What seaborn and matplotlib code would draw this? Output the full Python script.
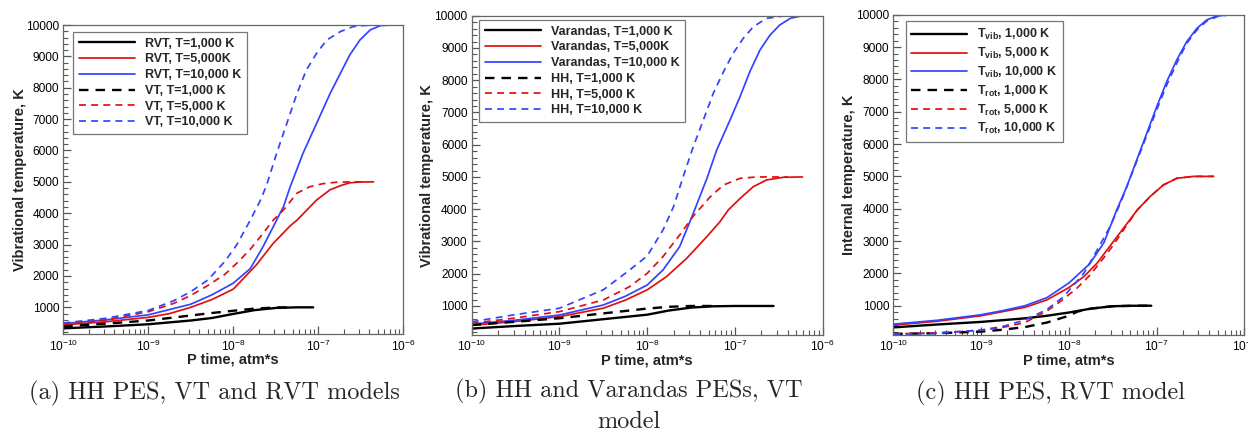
import numpy as np
import pandas as pd
import matplotlib
matplotlib.use("Agg")
import matplotlib.pyplot as plt
import seaborn as sns
from matplotlib.ticker import LogLocator, MultipleLocator, NullFormatter

# ---------------- data (x given as log10 of P time, atm*s) ----------------
# Panel (a): HH PES, VT and RVT models
a_rvt1000_x = [-10, -9.5, -9, -8.5, -8.25, -8, -7.75, -7.5, -7.25, -7.06]
a_rvt1000_y = [330, 390, 460, 580, 660, 790, 910, 980, 1000, 1000]
a_rvt5000_x = [-10, -9.5, -9, -8.75, -8.5, -8.25, -8, -7.73, -7.53, -7.33, -7.25, -7.02, -6.86,
               -6.74, -6.63, -6.5, -6.35]
a_rvt5000_y = [440, 540, 680, 800, 1000, 1250, 1580, 2349, 3040, 3600, 3780, 4420, 4750,
               4877, 4970, 4995, 5000]
a_rvt10000_x = [-10, -9.5, -9, -8.75, -8.5, -8.25, -8, -7.8, -7.65, -7.53, -7.41, -7.33, -7.18,
                -7.02, -6.86, -6.74, -6.63, -6.51, -6.39, -6.27, -6.15, -6.02]
a_rvt10000_y = [480, 600, 760, 930, 1100, 1400, 1770, 2235, 2935, 3570, 4210, 4845, 5910,
                6866, 7822, 8460, 9045, 9523, 9842, 9980, 10000, 10000]
a_vt1000_x = [-10, -9.5, -9, -8.5, -8.25, -8, -7.75, -7.5, -7.37]
a_vt1000_y = [390, 480, 580, 740, 820, 890, 960, 995, 1000]
a_vt5000_x = [-10, -9.5, -9, -8.7, -8.5, -8.31, -8.1, -7.96, -7.8, -7.65, -7.53, -7.41, -7.25,
              -7.1, -6.95, -6.8, -6.6, -6.43]
a_vt5000_y = [460, 600, 860, 1127, 1380, 1679, 2050, 2403, 2850, 3358, 3780, 4102, 4640,
              4845, 4940, 4985, 5000, 5000]
a_vt10000_x = [-10, -9.5, -9, -8.7, -8.5, -8.3, -8.1, -7.96, -7.8, -7.68, -7.61, -7.49, -7.37,
               -7.25, -7.14, -7.02, -6.9, -6.74, -6.59, -6.39, -6.02]
a_vt10000_y = [500, 650, 900, 1212, 1500, 1870, 2460, 2990, 3780, 4420, 4880, 5910, 6866,
               7822, 8567, 9098, 9523, 9790, 9950, 10000, 10000]

# Panel (b): HH and Varandas PESs, VT model
b_var1000_x = [-10, -9.5, -9, -8.5, -8, -7.75, -7.5, -7.25, -7, -6.56]
b_var1000_y = [300, 380, 450, 590, 730, 860, 950, 990, 1000, 1000]
b_var5000_x = [-10, -9.5, -9, -8.5, -8.25, -8, -7.78, -7.55, -7.32, -7.17, -7.076, -6.94,
               -6.79, -6.64, -6.45, -6.23]
b_var5000_y = [400, 520, 670, 930, 1180, 1500, 1910, 2478, 3150, 3615, 3976, 4338,
               4700, 4907, 4990, 5000]
b_var10000_x = [-10, -9.5, -9, -8.5, -8.25, -8, -7.82, -7.63, -7.5, -7.32, -7.208, -7.056,
                -6.942, -6.83, -6.715, -6.6, -6.49, -6.37, -6.25, -6.1]
b_var10000_y = [440, 560, 720, 1030, 1300, 1650, 2116, 2840, 3700, 4950, 5836, 6766,
                7490, 8266, 8936, 9401, 9711, 9917, 9990, 10000]
b_hh1000_x = [-10, -9.5, -9, -8.5, -8, -7.75, -7.5, -7.2]
b_hh1000_y = [410, 510, 620, 770, 920, 975, 1000, 1000]
b_hh5000_x = [-10, -9.53, -9, -8.5, -8.2, -8, -7.82, -7.63, -7.48, -7.28, -7.13, -6.94,
              -6.75, -6.4]
b_hh5000_y = [460, 618, 825, 1186, 1600, 2013, 2530, 3200, 3770, 4390, 4752, 4959,
              5000, 5000]
b_hh10000_x = [-10, -9.53, -9, -8.5, -8.2, -8, -7.82, -7.7, -7.59, -7.475, -7.36, -7.247,
               -7.13, -7.02, -6.905, -6.79, -6.64, -6.45, -6.3]
b_hh10000_y = [510, 721, 930, 1500, 2116, 2550, 3356, 4078, 5008, 5938, 6766, 7593,
               8266, 8834, 9300, 9660, 9917, 9990, 10000]

# Panel (c): HH PES, RVT model
c_vib1000_x = [-10, -9.5, -9, -8.5, -8.25, -8, -7.75, -7.5, -7.25, -7.06]
c_vib1000_y = [330, 420, 500, 610, 690, 790, 910, 985, 1000, 1000]
c_vib5000_x = [-10, -9.5, -9, -8.75, -8.5, -8.25, -8, -7.83, -7.68, -7.45, -7.22, -7.075,
               -6.923, -6.77, -6.58, -6.35]
c_vib5000_y = [400, 520, 690, 820, 950, 1180, 1560, 1897, 2310, 3135, 3960, 4372,
               4733, 4940, 5000, 5000]
c_vib10000_x = [-10, -9.5, -9, -8.75, -8.5, -8.25, -8, -7.76, -7.6, -7.454, -7.34, -7.226,
                -7.112, -6.998, -6.884, -6.77, -6.656, -6.54, -6.43, -6.315, -6.15, -6]
c_vib10000_y = [430, 550, 720, 850, 1000, 1250, 1700, 2300, 2950, 3960, 4681, 5506,
                6331, 7156, 7929, 8600, 9166, 9578, 9836, 9960, 10000, 10000]
c_rot1000_x = [-10, -9.5, -9, -8.75, -8.5, -8.25, -8, -7.9, -7.75, -7.5, -7.25, -7.06]
c_rot1000_y = [130, 150, 200, 260, 340, 480, 690, 820, 910, 985, 1000, 1000]
c_rot5000_x = [-10, -9.5, -9, -8.75, -8.5, -8.25, -8.1, -7.91, -7.758, -7.607, -7.493, -7.4,
               -7.22, -7.075, -6.923, -6.77, -6.58, -6.35]
c_rot5000_y = [130, 160, 240, 330, 480, 836, 1124, 1536, 1948, 2464, 2877, 3250,
               3960, 4372, 4733, 4940, 5000, 5000]
c_rot10000_x = [-10, -9.5, -9, -8.75, -8.5, -8.25, -8.06, -7.83, -7.72, -7.53, -7.4, -7.3,
                -7.2, -7.1, -7, -6.88, -6.77, -6.66, -6.54, -6.43, -6.3, -6.15, -6]
c_rot10000_y = [120, 150, 250, 360, 560, 880, 1278, 2000, 2515, 3443, 4250, 4950,
                5650, 6350, 7050, 7850, 8500, 9100, 9530, 9800, 9950, 10000, 10000]

panel_a_labels = ["RVT, T=1,000 K", "RVT, T=5,000K", "RVT, T=10,000 K",
                  "VT, T=1,000 K", "VT, T=5,000 K", "VT, T=10,000 K"]
panel_b_labels = ["Varandas, T=1,000 K", "Varandas, T=5,000K", "Varandas, T=10,000 K",
                  "HH, T=1,000 K", "HH, T=5,000 K", "HH, T=10,000 K"]
panel_c_labels = [r"$\mathbf{T_{vib}}$, 1,000 K", r"$\mathbf{T_{vib}}$, 5,000 K",
                  r"$\mathbf{T_{vib}}$, 10,000 K", r"$\mathbf{T_{rot}}$, 1,000 K",
                  r"$\mathbf{T_{rot}}$, 5,000 K", r"$\mathbf{T_{rot}}$, 10,000 K"]

captions = ["(a) HH PES, VT and RVT models",
            "(b) HH and Varandas PESs, VT\nmodel",
            "(c) HH PES, RVT model"]
ylabels = ["Vibrational temperature, K", "Vibrational temperature, K", "Internal temperature, K"]
xlabel = "P time, atm*s"

# ---------------- style ----------------
sns.set_theme(style="ticks")
plt.rcParams["font.family"] = ["Liberation Sans", "DejaVu Sans"]
plt.rcParams["mathtext.fontset"] = "custom"
plt.rcParams["mathtext.rm"] = "Liberation Sans"
plt.rcParams["mathtext.it"] = "Liberation Sans:italic"
plt.rcParams["mathtext.bf"] = "Liberation Sans:bold"

colors = ["#000000", "#e01010", "#3344ff"]
widths = [1.7, 1.25, 1.25]

fig = plt.figure(figsize=(12.48, 4.33), dpi=100)

axes_rects = [
    [63.3 / 1248, (433 - 334.3) / 433, 340 / 1248, 309.3 / 433],
    [471.7 / 1248, (433 - 335) / 433, 351 / 1248, 319.3 / 433],
    [893.3 / 1248, (433 - 335) / 433, 351 / 1248, 320.3 / 433],
]
ymins = [140, 100, 95]
legend_anchor = [(0.0285, 0.977), (0.021, 0.9865), (0.035, 0.979)]
caption_pos = [(214.7, 393), (629, 406), (1050, 393)]

panels = [
    ([(a_rvt1000_x, a_rvt1000_y), (a_rvt5000_x, a_rvt5000_y), (a_rvt10000_x, a_rvt10000_y)],
     [(a_vt1000_x, a_vt1000_y), (a_vt5000_x, a_vt5000_y), (a_vt10000_x, a_vt10000_y)],
     panel_a_labels),
    ([(b_var1000_x, b_var1000_y), (b_var5000_x, b_var5000_y), (b_var10000_x, b_var10000_y)],
     [(b_hh1000_x, b_hh1000_y), (b_hh5000_x, b_hh5000_y), (b_hh10000_x, b_hh10000_y)],
     panel_b_labels),
    ([(c_vib1000_x, c_vib1000_y), (c_vib5000_x, c_vib5000_y), (c_vib10000_x, c_vib10000_y)],
     [(c_rot1000_x, c_rot1000_y), (c_rot5000_x, c_rot5000_y), (c_rot10000_x, c_rot10000_y)],
     panel_c_labels),
]

for i, (solids, dashes, labels) in enumerate(panels):
    ax = fig.add_axes(axes_rects[i])
    for j, (xs, ys) in enumerate(solids):
        df = pd.DataFrame({"t": np.power(10.0, xs), "T": ys})
        sns.lineplot(data=df, x="t", y="T", ax=ax, color=colors[j], lw=widths[j],
                     label=labels[j], sort=True, estimator=None)
    for j, (xs, ys) in enumerate(dashes):
        df = pd.DataFrame({"t": np.power(10.0, xs), "T": ys})
        sns.lineplot(data=df, x="t", y="T", ax=ax, color=colors[j], lw=widths[j],
                     label=labels[3 + j], sort=True, estimator=None, dashes=False,
                     linestyle=(0, (4, 3)))
    ax.set_xscale("log")
    ax.set_xlim(1e-10, 1e-6)
    ax.set_ylim(ymins[i], 10000)
    ax.xaxis.set_major_locator(LogLocator(base=10, numticks=10))
    ax.xaxis.set_minor_locator(LogLocator(base=10, subs=np.arange(2, 10), numticks=50))
    ax.xaxis.set_minor_formatter(NullFormatter())
    ax.yaxis.set_minor_locator(MultipleLocator(200))
    ax.set_yticks(np.arange(1000, 10001, 1000))
    ax.tick_params(which="both", direction="in", top=False, right=False,
                   colors="#555555", labelcolor="black", labelsize=8.6)
    ax.tick_params(which="major", length=6, width=0.9, pad=3)
    ax.tick_params(which="minor", length=3.5, width=0.8)
    for s in ax.spines.values():
        s.set_color("#666666")
        s.set_linewidth(0.9)
    ax.set_xlabel(xlabel, fontsize=10.5, fontweight="bold")
    ax.set_ylabel(ylabels[i], fontsize=10.5, fontweight="bold")
    ax.xaxis.set_label_coords(0.5, -0.058)
    ax.yaxis.set_label_coords(-0.107, 0.5)
    leg = ax.legend(loc="upper left", bbox_to_anchor=legend_anchor[i], borderaxespad=0,
                    frameon=True, fancybox=False, edgecolor="#777777", framealpha=1,
                    prop={"weight": "bold", "size": 9}, handlelength=4.5,
                    labelspacing=0.3, handletextpad=0.8, borderpad=0.45)
    leg.get_frame().set_linewidth(0.9)

    cx, cy = caption_pos[i]
    fig.text(cx / 1248, 1 - cy / 433, captions[i], ha="center", va="center",
             fontsize=17.5, family="cmr10", linespacing=1.4)

fig.savefig("out.png", dpi=100)
